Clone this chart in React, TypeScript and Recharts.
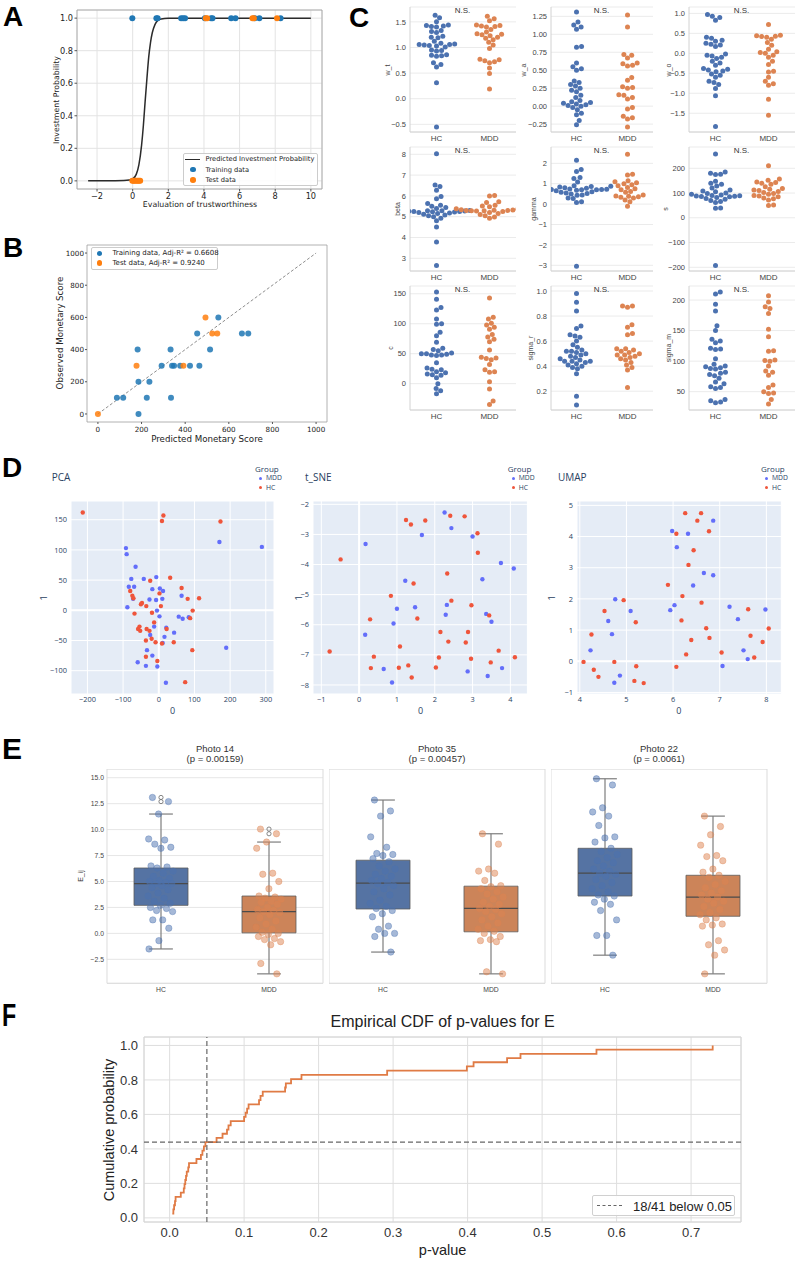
import React from 'react';
import {
  ComposedChart,
  Scatter,
  Line,
  XAxis,
  YAxis,
  CartesianGrid,
  ReferenceLine,
  ReferenceArea,
} from 'recharts';

// ---------- fonts, colours, formatting ----------
const MPL = "'DejaVu Sans', sans-serif";
const SANS = "'Liberation Sans', Arial, sans-serif";
const PLOTLY = "'Open Sans', 'Liberation Sans', sans-serif";
const MINUS = '\u2212';
const fmt = (d: number) => (v: number) => (v < 0 ? MINUS : '') + Math.abs(v).toFixed(d);

const TAB_BLUE = '#1f77b4';
const TAB_ORANGE = '#ff7f0e';
const HC_BLUE = '#4C72B0';
const MDD_ORANGE = '#DD8452';
const PL_MDD = '#636EFA';
const PL_HC = '#EF553B';
const groupNames = ['HC', 'MDD'];

// ---------- A: investment probability vs. trustworthiness ----------
const trustGrid = [-2.5, -1.5, -1, -0.5, -0.2, 0, 0.2, 0.35, 0.5, 0.6, 0.7, 0.8, 0.9, 1.0, 1.1, 1.25, 1.4, 1.6, 2.0, 3, 5, 7.5, 10];
const trustProb = [0, 0.0001, 0.0004, 0.0015, 0.005, 0.012, 0.04, 0.1, 0.22, 0.34, 0.49, 0.63, 0.76, 0.85, 0.91, 0.96, 0.985, 0.995, 0.999, 1, 1, 1, 1];
const trainEval = [-0.02, 1.33, 1.4, 2.72, 2.83, 2.94, 4.05, 4.4, 4.48, 5.53, 5.77, 6.85, 7.11, 8.3];
const trainInvest = [1, 1, 1, 1, 1, 1, 1, 1, 1, 1, 1, 1, 1, 1];
const testEval = [4.1, 4.18, 6.72, 6.8, 8.1, -0.02, 0.05, 0.12, 0.2, 0.28, 0.35, 0.42];
const testInvest = [1, 1, 1, 1, 1, 0, 0, 0, 0, 0, 0, 0];

// ---------- B: monetary score ----------
const trainPredicted = [87, 116, 182, 186, 186, 224, 236, 292, 333, 335, 340, 349, 377, 422, 465, 455, 514, 552, 660, 689];
const trainObserved = [100, 100, 400, 200, 0, 100, 200, 300, 400, 100, 300, 300, 300, 300, 300, 500, 400, 600, 500, 500];
const testPredicted = [0, 177, 392, 493, 524, 547];
const testObserved = [0, 300, 300, 600, 500, 500];
const trainR2 = '0.6608';
const testR2 = '0.9240';

// ---------- C: model parameters by group ----------
const wtHC = [1.63, 1.58, 1.5, 1.44, 1.43, 1.42, 1.41, 1.4, 1.33, 1.31, 1.29, 1.22, 1.2, 1.19, 1.12, 1.08, 1.07, 1.06, 1.06, 1.05, 1.04, 1.03, 1.01, 0.95, 0.94, 0.93, 0.86, 0.85, 0.84, 0.83, 0.7, 0.67, 0.62, 0.31, -0.55];
const wtMDD = [1.61, 1.56, 1.52, 1.44, 1.43, 1.42, 1.41, 1.4, 1.35, 1.3, 1.27, 1.26, 1.25, 1.23, 1.2, 1.18, 1.15, 1.1, 1.05, 0.98, 0.77, 0.76, 0.74, 0.72, 0.7, 0.6, 0.49, 0.19];
const waHC = [1.31, 1.17, 1.13, 1.1, 1.07, 0.83, 0.82, 0.6, 0.55, 0.52, 0.5, 0.35, 0.33, 0.3, 0.28, 0.25, 0.22, 0.2, 0.15, 0.12, 0.08, 0.06, 0.05, 0.04, 0.03, 0.02, 0.01, 0.0, -0.02, -0.05, -0.1, -0.12, -0.2, -0.26];
const waMDD = [1.27, 1.1, 0.72, 0.71, 0.67, 0.6, 0.59, 0.57, 0.56, 0.4, 0.36, 0.27, 0.26, 0.25, 0.16, 0.15, 0.12, 0.1, -0.02, -0.04, -0.14, -0.16, -0.18, -0.29];
const woHC = [0.97, 0.93, 0.9, 0.83, 0.4, 0.38, 0.33, 0.3, 0.25, 0.23, 0.21, 0.17, -0.02, -0.05, -0.07, -0.1, -0.13, -0.2, -0.24, -0.3, -0.38, -0.4, -0.42, -0.44, -0.46, -0.52, -0.55, -0.6, -0.7, -0.73, -0.78, -0.88, -1.06, -1.83];
const woMDD = [0.72, 0.45, 0.44, 0.43, 0.42, 0.4, 0.35, 0.27, 0.2, 0.1, 0.04, 0.02, 0.0, -0.05, -0.1, -0.2, -0.28, -0.45, -0.47, -0.6, -0.7, -0.76, -0.8, -1.15, -1.55];
const betaHC = [8.02, 6.52, 6.45, 6.27, 5.97, 5.86, 5.64, 5.55, 5.5, 5.44, 5.4, 5.36, 5.3, 5.29, 5.28, 5.27, 5.27, 5.26, 5.25, 5.25, 5.24, 5.22, 5.2, 5.18, 5.15, 5.12, 5.08, 5.05, 5.0, 4.93, 4.8, 4.5, 3.78, 2.65];
const betaMDD = [6.02, 6.0, 5.72, 5.68, 5.55, 5.52, 5.48, 5.38, 5.36, 5.33, 5.32, 5.31, 5.3, 5.3, 5.29, 5.28, 5.27, 5.25, 5.2, 5.15, 5.1, 5.05, 4.98, 4.92];
const gammaHC = [2.15, 1.7, 1.6, 1.3, 1.25, 1.08, 0.9, 0.88, 0.86, 0.84, 0.8, 0.78, 0.75, 0.74, 0.73, 0.72, 0.72, 0.71, 0.7, 0.68, 0.65, 0.6, 0.58, 0.55, 0.52, 0.5, 0.45, 0.43, 0.3, 0.27, 0.12, 0.08, -3.05];
const gammaMDD = [2.45, 1.47, 1.43, 1.15, 1.1, 1.05, 1.0, 0.95, 0.9, 0.82, 0.75, 0.7, 0.62, 0.58, 0.45, 0.4, 0.38, 0.36, 0.34, 0.3, 0.2, 0.12, -0.1];
const sHC = [258, 185, 180, 176, 175, 148, 140, 135, 128, 120, 112, 108, 105, 100, 98, 95, 92, 90, 89, 88, 87, 86, 85, 82, 78, 75, 70, 66, 62, 40, 39, -193];
const sMDD = [210, 157, 152, 145, 143, 140, 135, 125, 118, 115, 112, 110, 106, 102, 98, 95, 90, 88, 85, 80, 77, 72, 52, 50];
const cHC = [153, 141, 127, 123, 108, 100, 99, 86, 80, 69, 59, 57, 55, 51, 50, 50, 49, 48, 48, 47, 35, 26, 24, 23, 20, 18, 16, 15, 14, 10, 0, -8, -12, -17];
const cMDD = [143, 111, 108, 101, 98, 94, 91, 82, 78, 74, 70, 56, 44, 43, 42, 40, 32, 23, 20, 19, 3, -9, -29, -35];
const sigmaRHC = [0.98, 0.91, 0.84, 0.72, 0.7, 0.65, 0.64, 0.63, 0.6, 0.57, 0.55, 0.53, 0.52, 0.52, 0.51, 0.5, 0.49, 0.48, 0.47, 0.46, 0.45, 0.44, 0.44, 0.44, 0.43, 0.42, 0.41, 0.4, 0.39, 0.38, 0.34, 0.16, 0.09];
const sigmaRMDD = [0.88, 0.88, 0.87, 0.73, 0.71, 0.66, 0.65, 0.54, 0.54, 0.53, 0.52, 0.51, 0.5, 0.49, 0.49, 0.48, 0.47, 0.46, 0.45, 0.43, 0.41, 0.39, 0.37, 0.23];
const sigmaMHC = [213, 210, 193, 182, 158, 150, 136, 133, 130, 121, 120, 119, 104, 95, 92, 91, 89, 88, 87, 82, 80, 78, 76, 72, 66, 63, 58, 57, 55, 37, 35, 33, 32];
const sigmaMMDD = [207, 197, 189, 186, 178, 152, 140, 117, 116, 102, 101, 100, 92, 84, 82, 77, 61, 57, 50, 48, 47, 37, 30];

// ---------- D: low-dimensional embeddings ----------
const pcaMDD = [[-92, 103], [-90, 93], [-65, 72], [170, 113], [289, 105], [-77, 52], [-42, 52], [-7, 55], [-84, 39], [-69, 39], [-18, 35], [3, 36], [12, 32], [-72, 19], [-26, 18], [-7.5, 17], [10, 19], [64, 24], [-88, 5], [-5, -0.5], [2, -10], [56, -10.5], [67, -14], [84, -11.6], [-13, -27], [21, -29], [43, -37], [-24, -41], [16, -44], [11, -54], [-59, -86], [-36, -92], [-18, -75], [-4, -93], [20, -120], [-33, -66], [189, -62]];
const pcaHC = [[-213, 162], [13, 157], [9, 148], [173, 147], [32, 54], [-24, 49], [64, 37], [2, 28], [-80, 32], [-74, 24], [-71, 20], [113, 20], [81, 19], [-47, 12], [-50, 10], [-35, 7], [6, 7], [-68, -5.5], [-19, -4], [95, -0.5], [88, -13], [-13, -20], [-54, -27], [-58, -31], [-52, -34], [-34, -31], [-26, -34], [22, -31], [-36, -50], [-20, -47], [-9, -53], [9, -55], [42, -53], [-36, -77], [-4, -84], [94, -66], [74, -119]];
const tsneMDD = [[0.17, -3.32], [2.26, -2.27], [2.44, -2.79], [1.66, -3.02], [3.0, -3.07], [3.75, -3.95], [4.09, -4.13], [3.26, -4.49], [1.22, -4.54], [1.0, -5.47], [1.48, -5.42], [2.32, -5.34], [2.29, -5.67], [3.36, -5.64], [3.5, -5.9], [0.91, -5.96], [0.16, -6.33], [0.65, -7.47], [0.87, -7.92], [2.87, -7.55], [3.4, -7.7], [3.78, -7.44]];
const tsneHC = [[-0.49, -3.83], [1.24, -2.52], [1.37, -2.67], [1.75, -2.54], [2.41, -2.38], [2.79, -2.4], [3.13, -2.96], [3.14, -3.61], [2.33, -4.3], [1.44, -4.63], [0.84, -5.04], [2.44, -5.2], [2.97, -5.35], [1.54, -5.79], [0.29, -5.82], [2.15, -6.24], [2.88, -6.24], [2.36, -6.56], [2.82, -6.59], [3.44, -5.69], [-0.78, -6.89], [0.39, -7.06], [0.31, -7.44], [1.05, -7.43], [1.3, -7.35], [1.39, -7.75], [2.03, -7.42], [2.11, -7.09], [2.96, -7.13], [3.48, -7.25], [3.69, -6.86], [4.12, -7.08], [1.08, -6.72]];
const umapMDD = [[6.86, 4.51], [5.98, 4.18], [6.32, 4.09], [6.08, 3.66], [6.66, 2.83], [6.86, 2.76], [6.43, 2.43], [4.76, 1.99], [5.09, 1.61], [4.61, 1.29], [4.69, 0.87], [6.03, 1.8], [5.94, 1.64], [7.21, 1.75], [7.39, 1.35], [7.98, 1.66], [4.23, 0.35], [4.74, -0.69], [4.86, -0.46], [7.06, -0.15], [7.6, 0.07], [7.51, 0.35]];
const umapHC = [[6.26, 4.75], [6.6, 4.75], [6.52, 4.51], [6.77, 4.17], [6.07, 4.09], [6.44, 3.56], [6.33, 3.09], [5.89, 2.45], [6.2, 2.09], [6.61, 1.88], [4.94, 1.96], [4.53, 1.61], [5.2, 1.25], [4.25, 0.86], [6.18, 1.31], [6.71, 1.06], [6.78, 0.75], [6.39, 0.68], [7.61, 1.67], [7.66, 0.82], [8.05, 1.05], [7.92, 0.62], [4.08, -0.02], [4.3, -0.27], [4.4, -0.5], [4.74, -0.02], [5.21, -0.16], [5.17, -0.63], [5.37, -0.7], [6.07, -0.18], [6.28, 0.22], [7.04, 0.28], [7.74, 0.12]];

// ---------- E: per-photo E_ij ----------
const photoNames = ['Photo 14', 'Photo 35', 'Photo 22'];
const photoP = ['0.00159', '0.00457', '0.0061'];
// [lower whisker, Q1, median, Q3, upper whisker]
const hcBox = [[-1.5, 2.7, 4.8, 6.3, 11.5], [-1.8, 2.35, 4.85, 7.05, 12.85], [-2.1, 3.6, 5.8, 8.2, 14.9]];
const mddBox = [[-3.9, 0.05, 2.1, 3.6, 8.8], [-3.9, 0.15, 2.4, 4.55, 9.6], [-3.9, 1.65, 3.5, 5.6, 11.3]];
const eHC = [
  [13.1, 12.7, 11.5, 9.1, 9.0, 8.6, 8.3, 8.2, 6.5, 6.4, 6.3, 6.0, 5.8, 5.5, 5.3, 5.1, 5.0, 4.9, 4.8, 4.8, 4.6, 4.4, 4.2, 3.9, 3.6, 3.4, 3.1, 2.9, 2.7, 2.5, 2.4, 2.2, 2.1, 1.3, 1.3, 0.5, -0.7, -1.5],
  [12.85, 11.8, 11.3, 9.3, 8.3, 7.7, 7.6, 7.5, 7.2, 6.9, 6.5, 6.2, 6.0, 5.7, 5.5, 5.3, 5.1, 4.9, 4.8, 4.6, 4.3, 4.0, 3.7, 3.2, 2.9, 2.6, 2.4, 2.2, 1.9, 1.6, 0.7, 0.4, 0.0, 0.0, -0.3, -1.8],
  [14.9, 14.3, 12.1, 11.7, 11.3, 10.4, 9.3, 9.2, 8.8, 8.2, 7.9, 7.6, 7.3, 7.0, 6.8, 6.5, 6.2, 6.0, 5.8, 5.7, 5.5, 5.2, 4.9, 4.6, 4.3, 4.0, 3.7, 3.6, 3.3, 3.0, 2.8, 2.2, 1.3, -0.2, -0.2, -2.1],
];
const eMDD = [
  [10.05, 9.6, 8.8, 8.2, 5.8, 5.7, 5.0, 4.3, 3.6, 3.5, 3.4, 3.3, 3.1, 3.0, 2.8, 2.5, 2.3, 2.2, 2.1, 2.0, 1.8, 1.5, 1.2, 0.9, 0.6, 0.4, 0.1, 0.0, -0.1, -0.3, -0.5, -0.6, -0.8, -1.1, -2.9, -3.9],
  [9.6, 8.6, 6.2, 6.0, 5.8, 5.1, 4.6, 4.5, 4.3, 4.0, 3.8, 3.5, 3.3, 3.0, 2.8, 2.6, 2.4, 2.3, 2.1, 1.9, 1.6, 1.3, 1.0, 0.7, 0.4, 0.2, 0.0, -0.3, -0.6, -0.7, -0.8, -3.7, -3.9],
  [11.3, 10.3, 9.5, 8.5, 7.5, 7.4, 7.0, 6.2, 5.9, 5.6, 5.4, 5.0, 4.7, 4.4, 4.1, 3.9, 3.7, 3.5, 3.3, 3.1, 2.9, 2.6, 2.3, 2.0, 1.8, 1.5, 1.3, 0.9, 0.8, 0.7, -0.7, -1.1, -1.6, -2.1, -3.9],
];

// ---------- F: p-values over all photos ----------
const pValues = [0.0036, 0.005, 0.006, 0.0072, 0.008, 0.015, 0.019, 0.02, 0.021, 0.022, 0.023, 0.025, 0.026, 0.036, 0.042, 0.044, 0.046, 0.048, 0.063, 0.071, 0.077, 0.079, 0.082, 0.1, 0.102, 0.104, 0.106, 0.12, 0.122, 0.125, 0.155, 0.156, 0.163, 0.177, 0.292, 0.399, 0.408, 0.453, 0.471, 0.573, 0.729];
const alpha = 0.05;

// ---------- shared drawing helpers ----------
type Rect = { x: number; y: number; w: number; h: number };

function Plot({ rect, yw, xh, mt = 0, mr = 0, children }: { rect: Rect; yw: number; xh: number; mt?: number; mr?: number; children: React.ReactNode }) {
  const width = yw + rect.w + mr;
  const height = mt + rect.h + xh;
  return (
    <div style={{ position: 'absolute', left: rect.x - yw, top: rect.y - mt, width, height }}>
      <ComposedChart width={width} height={height} margin={{ top: mt, right: mr, bottom: 0, left: 0 }}>
        {children}
      </ComposedChart>
    </div>
  );
}

type TxtProps = {
  x: number; y: number; size: number; font: string; color?: string;
  anchor?: 'start' | 'middle' | 'end'; rotate?: number; weight?: number; sx?: number; children: React.ReactNode;
};
function Txt({ x, y, size, font, color = '#222', anchor = 'middle', rotate = 0, weight = 400, sx = 1, children }: TxtProps) {
  const tx = anchor === 'start' ? '0' : anchor === 'end' ? '-100%' : '-50%';
  const origin = anchor === 'start' ? 'left center' : anchor === 'end' ? 'right center' : 'center';
  return (
    <div
      style={{
        position: 'absolute', left: x, top: y, fontSize: size, fontFamily: font, color, fontWeight: weight,
        lineHeight: 1, whiteSpace: 'nowrap', transformOrigin: origin,
        transform: `translate(${tx},-50%)${rotate ? ` rotate(${rotate}deg)` : ''}${sx !== 1 ? ` scaleX(${sx})` : ''}`,
      }}
    >
      {children}
    </div>
  );
}

function Letter({ x, capTop, size = 28, sx = 1, children }: { x: number; capTop: number; size?: number; sx?: number; children: React.ReactNode }) {
  return (
    <div style={{ position: 'absolute', left: x, top: capTop - 0.13 * size, fontSize: size, fontWeight: 700, fontFamily: SANS, lineHeight: 1, color: '#000', transform: sx !== 1 ? `scaleX(${sx})` : undefined, transformOrigin: 'left top' }}>
      {children}
    </div>
  );
}

function Marker({ cx, cy, r, color }: { cx: number; cy: number; r: number; color: string }) {
  return <div style={{ position: 'absolute', left: cx - r, top: cy - r, width: 2 * r, height: 2 * r, borderRadius: '50%', background: color }} />;
}

function Box({ x, y, w, h, border = '#cccccc', bg = 'rgba(255,255,255,0.85)' }: { x: number; y: number; w: number; h: number; border?: string; bg?: string }) {
  return <div style={{ position: 'absolute', left: x, top: y, width: w, height: h, border: `1px solid ${border}`, borderRadius: 2, background: bg, boxSizing: 'border-box' }} />;
}

const dot = (r: number, fill: string, extra: Record<string, unknown> = {}) => (p: any) => (
  <circle cx={p.cx} cy={p.cy} r={r} fill={fill} {...extra} />
);

// beeswarm layout: nearest free horizontal slot for each value, in pixels
function swarmOffsets(values: number[], domain: [number, number], h: number, w: number, d: number): number[] {
  const pxPerUnit = h / (domain[1] - domain[0]);
  const order = values.map((_, i) => i).sort((a, b) => values[a] - values[b]);
  const placed: { x: number; y: number }[] = [];
  const out = new Array(values.length).fill(0);
  for (const i of order) {
    const y = values[i] * pxPerUnit;
    const cands = [0];
    for (const p of placed) {
      const dy = Math.abs(y - p.y);
      if (dy < d) {
        const dx = Math.sqrt(d * d - dy * dy);
        cands.push(p.x + dx, p.x - dx);
      }
    }
    cands.sort((a, b) => Math.abs(a) - Math.abs(b));
    let best = 0;
    for (const c of cands) {
      if (placed.every((p) => (c - p.x) ** 2 + (y - p.y) ** 2 >= d * d - 1e-6)) {
        best = c;
        break;
      }
    }
    placed.push({ x: best, y });
    out[i] = best / (w / 2);
  }
  return out;
}

// deterministic strip jitter (low-discrepancy sequence)
const jitter = (i: number) => (((i * 0.6180339887 + 0.17) % 1) - 0.5) * 0.24;

// ---------- Panel A ----------
function PanelA() {
  const rect = { x: 77, y: 10, w: 245, h: 179 };
  const xd: [number, number] = [-3.125, 10.625];
  const yd: [number, number] = [-0.05, 1.05];
  const curve = trustGrid.map((x, i) => ({ x, y: trustProb[i] }));
  const train = trainEval.map((x, i) => ({ x, y: trainInvest[i] }));
  const test = testEval.map((x, i) => ({ x, y: testInvest[i] }));
  const tick = { fontSize: 8.2, fill: '#222', fontFamily: MPL };
  return (
    <>
      <Plot rect={rect} yw={32} xh={15} mr={2} mt={4}>
        <CartesianGrid stroke="#e3e3e3" />
        <XAxis type="number" dataKey="x" domain={xd} allowDataOverflow ticks={[-2, 0, 2, 4, 6, 8, 10]} interval={0} tickFormatter={fmt(0)} axisLine={false} tickLine={{ stroke: '#555' }} tickSize={2.5} tickMargin={1.2} tick={tick} height={15} />
        <YAxis type="number" dataKey="y" domain={yd} allowDataOverflow ticks={[0, 0.2, 0.4, 0.6, 0.8, 1]} interval={0} tickFormatter={fmt(1)} axisLine={false} tickLine={{ stroke: '#555' }} tickSize={2.5} tickMargin={1.5} tick={tick} width={32} />
        <ReferenceArea x1={xd[0]} x2={xd[1]} y1={yd[0]} y2={yd[1]} fill="none" stroke="#a0a0a0" strokeWidth={0.8} />
        <Line data={curve} dataKey="y" type="monotone" stroke="#2b2b2b" strokeWidth={1.5} dot={false} isAnimationActive={false} />
        <Scatter data={train} shape={dot(3, TAB_BLUE)} isAnimationActive={false} />
        <Scatter data={test} shape={dot(3, TAB_ORANGE)} isAnimationActive={false} />
      </Plot>
      <Txt x={57} y={100} size={7.8} font={MPL} rotate={-90}>Investment Probability</Txt>
      <Txt x={200} y={205} size={7.8} font={MPL}>Evaluation of trustworthiness</Txt>
      <Box x={183} y={153} w={135} h={33} />
      <div style={{ position: 'absolute', left: 185, top: 158.6, width: 15, height: 1.5, background: '#2b2b2b' }} />
      <Marker cx={193} cy={169.6} r={2.8} color={TAB_BLUE} />
      <Marker cx={193} cy={179.8} r={2.8} color={TAB_ORANGE} />
      <Txt x={205.5} y={159.4} size={6.7} font={MPL} anchor="start">Predicted Investment Probability</Txt>
      <Txt x={205.5} y={169.6} size={6.7} font={MPL} anchor="start">Training data</Txt>
      <Txt x={205.5} y={179.8} size={6.7} font={MPL} anchor="start">Test data</Txt>
    </>
  );
}

// ---------- Panel B ----------
function PanelB() {
  const rect = { x: 87, y: 245, w: 240, h: 177 };
  const d: [number, number] = [-50, 1050];
  const ticks = [0, 200, 400, 600, 800, 1000];
  const train = trainPredicted.map((x, i) => ({ x, y: trainObserved[i] }));
  const test = testPredicted.map((x, i) => ({ x, y: testObserved[i] }));
  const tick = { fontSize: 7.2, fill: '#222', fontFamily: MPL };
  return (
    <>
      <Plot rect={rect} yw={28} xh={14} mr={2} mt={4}>
        <XAxis type="number" dataKey="x" domain={d} allowDataOverflow ticks={ticks} interval={0} tickFormatter={fmt(0)} axisLine={false} tickLine={{ stroke: '#555' }} tickSize={2} tickMargin={3} tick={tick} height={14} />
        <YAxis type="number" dataKey="y" domain={d} allowDataOverflow ticks={ticks} interval={0} tickFormatter={fmt(0)} axisLine={false} tickLine={{ stroke: '#555' }} tickSize={2} tickMargin={1} tick={tick} width={28} />
        <ReferenceArea x1={d[0]} x2={d[1]} y1={d[0]} y2={d[1]} fill="none" stroke="#a0a0a0" strokeWidth={0.8} />
        <ReferenceLine segment={[{ x: 0, y: 0 }, { x: 1000, y: 1000 }]} stroke="#808080" strokeDasharray="3 2" strokeWidth={0.9} />
        <Scatter data={train} shape={dot(3, TAB_BLUE, { fillOpacity: 0.85 })} isAnimationActive={false} />
        <Scatter data={test} shape={dot(3, TAB_ORANGE, { fillOpacity: 0.85 })} isAnimationActive={false} />
      </Plot>
      <Txt x={60} y={333} size={8.7} font={MPL} rotate={-90}>Observed Monetary Score</Txt>
      <Txt x={207} y={439} size={8.7} font={MPL}>Predicted Monetary Score</Txt>
      <Box x={90.7} y={246.7} w={127.6} h={23.3} />
      <Marker cx={99.7} cy={253.3} r={2.6} color={TAB_BLUE} />
      <Marker cx={99.7} cy={263} r={2.6} color={TAB_ORANGE} />
      <Txt x={112.5} y={253.3} size={7} font={MPL} anchor="start">{`Training data, Adj-R\u00b2 = ${trainR2}`}</Txt>
      <Txt x={112.5} y={263} size={7} font={MPL} anchor="start">{`Test data, Adj-R\u00b2 = ${testR2}`}</Txt>
    </>
  );
}

// ---------- Panel C ----------
type SwarmSpec = { name: string; hc: number[]; mdd: number[]; domain: [number, number]; ticks: number[]; dec: number; labelX: number };
const swarmSpecs: SwarmSpec[] = [
  { name: 'w_t', hc: wtHC, mdd: wtMDD, domain: [-0.65, 1.79], ticks: [-0.5, 0, 0.5, 1, 1.5], dec: 1, labelX: 387 },
  { name: 'w_a', hc: waHC, mdd: waMDD, domain: [-0.36, 1.38], ticks: [-0.25, 0, 0.25, 0.5, 0.75, 1, 1.25], dec: 2, labelX: 523 },
  { name: 'w_o', hc: woHC, mdd: woMDD, domain: [-1.97, 1.16], ticks: [-1.5, -1, -0.5, 0, 0.5, 1], dec: 1, labelX: 668 },
  { name: 'beta', hc: betaHC, mdd: betaMDD, domain: [2.39, 8.35], ticks: [3, 4, 5, 6, 7, 8], dec: 0, labelX: 397 },
  { name: 'gamma', hc: gammaHC, mdd: gammaMDD, domain: [-3.28, 2.8], ticks: [-3, -2, -1, 0, 1, 2], dec: 0, labelX: 533 },
  { name: 's', hc: sHC, mdd: sMDD, domain: [-215, 286], ticks: [-200, -100, 0, 100, 200], dec: 0, labelX: 665 },
  { name: 'c', hc: cHC, mdd: cMDD, domain: [-44, 163], ticks: [0, 50, 100, 150], dec: 0, labelX: 390 },
  { name: 'sigma_r', hc: sigmaRHC, mdd: sigmaRMDD, domain: [0.05, 1.04], ticks: [0.2, 0.4, 0.6, 0.8, 1.0], dec: 1, labelX: 530 },
  { name: 'sigma_m', hc: sigmaMHC, mdd: sigmaMMDD, domain: [20, 223], ticks: [50, 100, 150, 200], dec: 0, labelX: 668 },
];
const swarmColX = [409.5, 550.5, 688.5];
const swarmColW = [106, 102, 106];
const swarmRowY = [7, 147, 286];
const swarmRowH = [125, 124, 124];

function SwarmPlot({ spec, idx }: { spec: SwarmSpec; idx: number }) {
  const col = idx % 3;
  const row = Math.floor(idx / 3);
  const rect = { x: swarmColX[col], y: swarmRowY[row], w: swarmColW[col], h: swarmRowH[row] };
  const dia = 5.1;
  const offHC = swarmOffsets(spec.hc, spec.domain, rect.h, rect.w, dia);
  const offMDD = swarmOffsets(spec.mdd, spec.domain, rect.h, rect.w, dia);
  const hcPts = spec.hc.map((v, i) => ({ x: 0 + offHC[i], y: v }));
  const mddPts = spec.mdd.map((v, i) => ({ x: 1 + offMDD[i], y: v }));
  const axisColor = { stroke: '#d2d2d2' };
  return (
    <>
      <Plot rect={rect} yw={30} xh={12} mr={2} mt={4}>
        <CartesianGrid vertical={false} stroke="#ebebeb" />
        <XAxis type="number" dataKey="x" domain={[-0.5, 1.5]} allowDataOverflow ticks={[0, 1]} interval={0} tickFormatter={(v: number) => groupNames[v]} axisLine={axisColor} tickLine={false} tickSize={0} tickMargin={3} tick={{ fontSize: 8, fill: '#444', fontFamily: SANS }} height={12} />
        <YAxis type="number" dataKey="y" domain={spec.domain} allowDataOverflow ticks={spec.ticks} interval={0} tickFormatter={fmt(spec.dec)} axisLine={axisColor} tickLine={false} tickSize={0} tickMargin={4} tick={{ fontSize: 7.5, fill: '#444', fontFamily: SANS }} width={30} />
        <Scatter data={hcPts} shape={dot(2.5, HC_BLUE)} isAnimationActive={false} />
        <Scatter data={mddPts} shape={dot(2.5, MDD_ORANGE)} isAnimationActive={false} />
      </Plot>
      <Txt x={rect.x + rect.w / 2} y={rect.y + 4} size={8} font={SANS} color="#333">N.S.</Txt>
      <Txt x={spec.labelX} y={rect.y + rect.h / 2} size={7} font={SANS} color="#444" rotate={-90}>{spec.name}</Txt>
    </>
  );
}

function PanelC() {
  return (
    <>
      {swarmSpecs.map((s, i) => (
        <SwarmPlot key={s.name} spec={s} idx={i} />
      ))}
    </>
  );
}

// ---------- Panel D ----------
type EmbedSpec = {
  title: string; mdd: number[][]; hc: number[][]; rect: Rect; xd: [number, number]; yd: [number, number];
  xt: number[]; yt: number[]; titleX: number; legendX: number; ylabX: number;
};
const embedSpecs: EmbedSpec[] = [
  { title: 'PCA', mdd: pcaMDD, hc: pcaHC, rect: { x: 71, y: 501, w: 203, h: 193 }, xd: [-246, 323], yd: [-138.6, 181], xt: [-200, -100, 0, 100, 200, 300], yt: [-100, -50, 0, 50, 100, 150], titleX: 51.7, legendX: 255, ylabX: 43.3 },
  { title: 't_SNE', mdd: tsneMDD, hc: tsneHC, rect: { x: 313.3, y: 501, w: 214.4, h: 193 }, xd: [-1.22, 4.45], yd: [-8.3, -1.89], xt: [-1, 0, 1, 2, 3, 4], yt: [-8, -7, -6, -5, -4, -3, -2], titleX: 305, legendX: 507.7, ylabX: 298.3 },
  { title: 'UMAP', mdd: umapMDD, hc: umapHC, rect: { x: 576.7, y: 501, w: 204.3, h: 193 }, xd: [3.94, 8.32], yd: [-1.05, 5.14], xt: [4, 5, 6, 7, 8], yt: [-1, 0, 1, 2, 3, 4, 5], titleX: 558, legendX: 761, ylabX: 550.7 },
];

function EmbedPlot({ spec }: { spec: EmbedSpec }) {
  const { rect, xd, yd } = spec;
  const tick = { fontSize: 7.4, fill: '#2a3f5f', fontFamily: PLOTLY };
  const mdd = spec.mdd.map(([x, y]) => ({ x, y }));
  const hc = spec.hc.map(([x, y]) => ({ x, y }));
  return (
    <>
      <Plot rect={rect} yw={26} xh={14} mr={2} mt={6}>
        <CartesianGrid fill="#E5ECF6" stroke="#ffffff" strokeWidth={1} />
        <XAxis type="number" dataKey="x" domain={xd} allowDataOverflow ticks={spec.xt} interval={0} tickFormatter={fmt(0)} axisLine={false} tickLine={false} tickSize={0} tickMargin={3} tick={tick} height={14} />
        <YAxis type="number" dataKey="y" domain={yd} allowDataOverflow ticks={spec.yt} interval={0} tickFormatter={fmt(0)} axisLine={false} tickLine={false} tickSize={0} tickMargin={4} tick={tick} width={26} />
        {xd[0] < 0 && xd[1] > 0 && <ReferenceLine x={0} stroke="#ffffff" strokeWidth={2} />}
        {yd[0] < 0 && yd[1] > 0 && <ReferenceLine y={0} stroke="#ffffff" strokeWidth={2} />}
        <Scatter data={mdd} shape={dot(2.2, PL_MDD)} isAnimationActive={false} />
        <Scatter data={hc} shape={dot(2.2, PL_HC)} isAnimationActive={false} />
      </Plot>
      <Txt x={spec.titleX} y={476.7} size={10} font={PLOTLY} color="#2a3f5f" anchor="start">{spec.title}</Txt>
      <Txt x={spec.legendX} y={469.3} size={8} font={PLOTLY} color="#2a3f5f" anchor="start">Group</Txt>
      <Marker cx={spec.legendX + 5.5} cy={478.3} r={1.7} color={PL_MDD} />
      <Marker cx={spec.legendX + 5.5} cy={487.7} r={1.7} color={PL_HC} />
      <Txt x={spec.legendX + 11} y={478.3} size={6.8} font={PLOTLY} color="#2a3f5f" anchor="start">MDD</Txt>
      <Txt x={spec.legendX + 11} y={487.7} size={6.8} font={PLOTLY} color="#2a3f5f" anchor="start">HC</Txt>
      <Txt x={rect.x + rect.w / 2} y={710} size={9} font={PLOTLY} color="#2a3f5f">0</Txt>
      <Txt x={spec.ylabX} y={rect.y + rect.h / 2} size={9} font={PLOTLY} color="#2a3f5f" rotate={-90}>1</Txt>
    </>
  );
}

function PanelD() {
  return (
    <>
      {embedSpecs.map((s) => (
        <EmbedPlot key={s.title} spec={s} />
      ))}
    </>
  );
}

// ---------- Panel E ----------
const boxX = [107, 329, 551];

function BoxSubplot({ idx }: { idx: number }) {
  const rect = { x: boxX[idx], y: 769, w: 216, h: 214.3 };
  const yd: [number, number] = [-4.81, 15.84];
  const showY = idx === 0;
  const groups = [
    { vals: eHC[idx], stats: hcBox[idx], fill: '#5573A3', pt: HC_BLUE },
    { vals: eMDD[idx], stats: mddBox[idx], fill: '#CC8459', pt: MDD_ORANGE },
  ];
  const tickX = { fontSize: 6.8, fill: '#444', fontFamily: SANS };
  return (
    <>
      <Plot rect={rect} yw={showY ? 26 : 0} xh={14} mr={1}>
        <CartesianGrid vertical={false} stroke="#e6e6e6" />
        <XAxis type="number" dataKey="x" domain={[-0.5, 1.5]} allowDataOverflow ticks={[0, 1]} interval={0} tickFormatter={(v: number) => groupNames[v]} axisLine={false} tickLine={false} tickSize={0} tickMargin={4} tick={tickX} height={14} />
        <YAxis type="number" dataKey="y" domain={yd} allowDataOverflow ticks={[-2.5, 0, 2.5, 5, 7.5, 10, 12.5, 15]} interval={0} tickFormatter={fmt(1)} axisLine={false} tickLine={false} tickSize={0} tickMargin={3} tick={showY ? tickX : false} width={showY ? 26 : 0} />
        <ReferenceArea x1={-0.5} x2={1.5} y1={yd[0]} y2={yd[1]} fill="none" stroke="#dcdcdc" strokeWidth={1} />
        {groups.map((g, i) => {
          const [lo, q1, med, q3, hi] = g.stats;
          return (
            <React.Fragment key={`g${i}`}>
              <ReferenceLine segment={[{ x: i, y: lo }, { x: i, y: q1 }]} stroke="#7d7d7d" strokeWidth={1.2} />
              <ReferenceLine segment={[{ x: i, y: q3 }, { x: i, y: hi }]} stroke="#7d7d7d" strokeWidth={1.2} />
              <ReferenceLine segment={[{ x: i - 0.11, y: lo }, { x: i + 0.11, y: lo }]} stroke="#7d7d7d" strokeWidth={1.2} />
              <ReferenceLine segment={[{ x: i - 0.11, y: hi }, { x: i + 0.11, y: hi }]} stroke="#7d7d7d" strokeWidth={1.2} />
              <ReferenceArea x1={i - 0.25} x2={i + 0.25} y1={q1} y2={q3} fill={g.fill} fillOpacity={1} stroke="#5c5c5c" strokeWidth={0.8} />
              <ReferenceLine segment={[{ x: i - 0.25, y: med }, { x: i + 0.25, y: med }]} stroke="#4a4a4a" strokeWidth={1.2} />
            </React.Fragment>
          );
        })}
        {groups.map((g, i) => (
          <Scatter
            key={`s${i}`}
            data={g.vals.map((v, k) => ({ x: i + jitter(k), y: v }))}
            shape={dot(3.2, g.pt, { fillOpacity: 0.5, stroke: g.pt, strokeOpacity: 0.6, strokeWidth: 0.6 })}
            isAnimationActive={false}
          />
        ))}
        {groups.map((g, i) => (
          <Scatter
            key={`f${i}`}
            data={g.vals.filter((v) => v > g.stats[4] || v < g.stats[0]).map((v) => ({ x: i, y: v }))}
            shape={dot(2.1, 'none', { stroke: '#6a6a6a', strokeWidth: 0.8 })}
            isAnimationActive={false}
          />
        ))}
      </Plot>
      <Txt x={rect.x + rect.w / 2} y={748.7} size={9.5} font={SANS} color="#333">{photoNames[idx]}</Txt>
      <Txt x={rect.x + rect.w / 2} y={759} size={9.5} font={SANS} color="#333">{`(p = ${photoP[idx]})`}</Txt>
    </>
  );
}

function PanelE() {
  return (
    <>
      {[0, 1, 2].map((i) => (
        <BoxSubplot key={i} idx={i} />
      ))}
      <Txt x={80} y={876} size={7} font={SANS} color="#333" rotate={-90}>E_ij</Txt>
    </>
  );
}

// ---------- Panel F ----------
function PanelF() {
  const rect = { x: 144.3, y: 1037.3, w: 597, h: 185 };
  const xd: [number, number] = [-0.0344, 0.767];
  const yd: [number, number] = [-0.024, 1.049];
  const sorted = [...pValues].sort((a, b) => a - b);
  const n = sorted.length;
  const ecdf = sorted.map((p, i) => ({ x: p, y: (i + 1) / n }));
  const below = sorted.filter((p) => p < alpha).length;
  const tick = { fontSize: 13, fill: '#333', fontFamily: SANS };
  return (
    <>
      <Plot rect={rect} yw={40} xh={24} mr={2} mt={6}>
        <CartesianGrid stroke="#dedede" />
        <XAxis type="number" dataKey="x" domain={xd} allowDataOverflow ticks={[0, 0.1, 0.2, 0.3, 0.4, 0.5, 0.6, 0.7]} interval={0} tickFormatter={fmt(1)} axisLine={false} tickLine={false} tickSize={0} tickMargin={6} tick={tick} height={24} />
        <YAxis type="number" dataKey="y" domain={yd} allowDataOverflow ticks={[0, 0.2, 0.4, 0.6, 0.8, 1]} interval={0} tickFormatter={fmt(1)} axisLine={false} tickLine={false} tickSize={0} tickMargin={6} tick={tick} width={40} />
        <ReferenceArea x1={xd[0]} x2={xd[1]} y1={yd[0]} y2={yd[1]} fill="none" stroke="#d6d6d6" strokeWidth={1} />
        <Line data={ecdf} dataKey="y" type="stepAfter" stroke="#E07B45" strokeWidth={1.8} dot={false} isAnimationActive={false} />
        <ReferenceLine x={alpha} stroke="#666" strokeDasharray="5 3" strokeWidth={1.2} />
        <ReferenceLine y={below / n} stroke="#666" strokeDasharray="5 3" strokeWidth={1.2} />
      </Plot>
      <Txt x={442.6} y={1021.7} size={16} font={SANS} color="#222">Empirical CDF of p-values for E</Txt>
      <Txt x={108.5} y={1130} size={14.5} font={SANS} color="#222" rotate={-90}>Cumulative probability</Txt>
      <Txt x={442.6} y={1250} size={14.5} font={SANS} color="#222">p-value</Txt>
      <Box x={592} y={1195} w={143} h={21} border="#d0d0d0" bg="rgba(255,255,255,0.9)" />
      <div style={{ position: 'absolute', left: 597, top: 1204.8, width: 25, height: 0, borderTop: '1.3px dashed #666' }} />
      <Txt x={633} y={1205.5} size={13} font={SANS} color="#222" anchor="start">{`${below}/${n} below ${alpha}`}</Txt>
    </>
  );
}

export default function App() {
  return (
    <div style={{ position: 'absolute', left: 0, top: 0, width: 800, height: 1261, background: '#ffffff', overflow: 'hidden' }}>
      <PanelA />
      <PanelB />
      <PanelC />
      <PanelD />
      <PanelE />
      <PanelF />
      <Letter x={3} capTop={7}>A</Letter>
      <Letter x={3} capTop={238}>B</Letter>
      <Letter x={349} capTop={8}>C</Letter>
      <Letter x={2} capTop={458}>D</Letter>
      <Letter x={2} capTop={738} size={30}>E</Letter>
      <Letter x={2} capTop={1004} size={31} sx={0.75}>F</Letter>
    </div>
  );
}
